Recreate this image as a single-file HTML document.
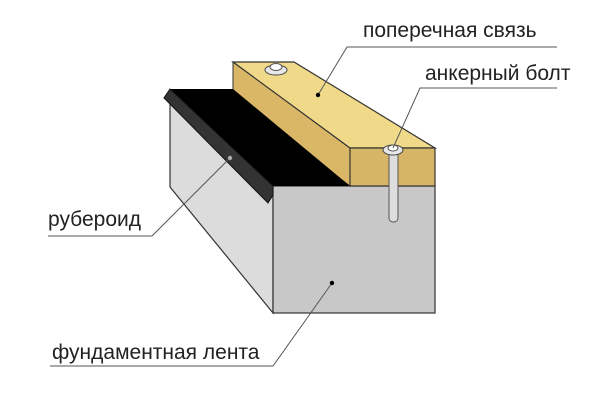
<!DOCTYPE html>
<html><head><meta charset="utf-8"><style>
html,body{margin:0;padding:0;background:#fff}
svg{display:block}
text{font-family:"Liberation Sans","DejaVu Sans",sans-serif;font-size:21px;fill:#222}
</style></head><body>
<svg width="600" height="420" viewBox="0 0 600 420" xmlns="http://www.w3.org/2000/svg">
<polygon points="170,100 273,186 273,313 170,187" fill="#dcdcdc" stroke="#333" stroke-width="1.2"/>
<rect x="273" y="186" width="162" height="127" fill="#c8c8c8" stroke="#333" stroke-width="1.2"/>
<polygon points="233,62 350,148 350,186 233,100" fill="#d9b766" stroke="#333" stroke-width="1"/>
<polygon points="170,89 233,89 350,186 273,186" fill="#000"/>
<polygon points="170,89 164,98 268,203 273,195 273,186" fill="#333" stroke="#111" stroke-width="1"/>
<polygon points="233,62 294,62 435,148 350,148" fill="#f1d98a" stroke="#333" stroke-width="1.2"/>
<rect x="350" y="148" width="85" height="38" fill="#d7b566" stroke="#333" stroke-width="1.2"/>
<rect x="389" y="150" width="9" height="72" rx="4" fill="#ddd" stroke="#555" stroke-width="1"/>
<ellipse cx="393" cy="150" rx="10" ry="5" fill="#e8e8e8" stroke="#444"/>
<ellipse cx="393" cy="148" rx="5" ry="3" fill="#fff" stroke="#555"/>
<ellipse cx="276" cy="70" rx="11" ry="5" fill="#e8e8e8" stroke="#444"/>
<ellipse cx="276" cy="67" rx="6" ry="3.5" fill="#fff" stroke="#555"/>
<g stroke="#555" stroke-width="1" fill="none">
<polyline points="557,47 347,47 318,95"/>
<polyline points="557,88 420,88 393,148"/>
<polyline points="48,236 152,236 230,158"/>
<polyline points="50,366 273,366 332,283"/>
</g>
<g fill="#000">
<circle cx="318" cy="95" r="2.2"/>
<circle cx="230" cy="158" r="2.2" fill="#aaa"/>
<circle cx="332" cy="283" r="2.2"/>
</g>
<text x="363" y="37">поперечная связь</text>
<text x="425" y="80">анкерный болт</text>
<text x="48" y="226">рубероид</text>
<text x="52" y="359">фундаментная лента</text>
</svg>
</body></html>
